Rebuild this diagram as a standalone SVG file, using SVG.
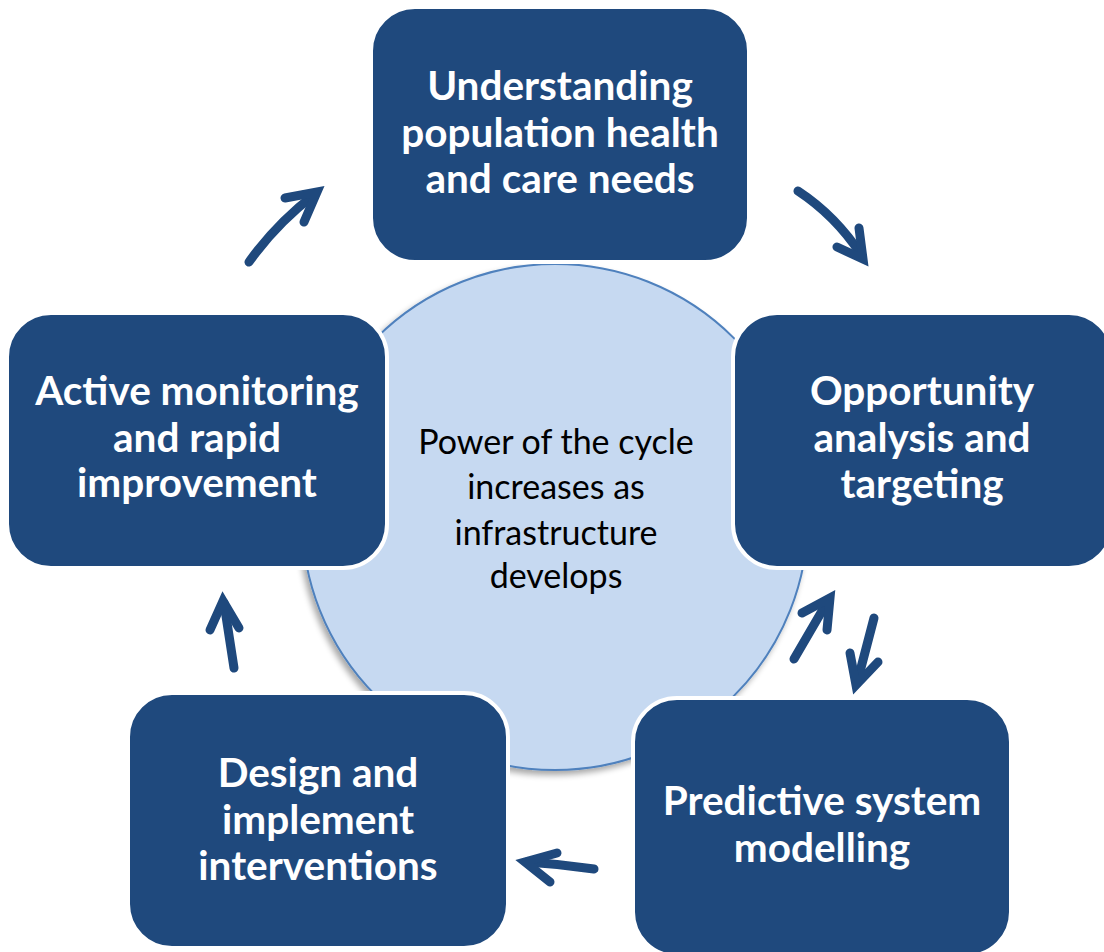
<svg xmlns="http://www.w3.org/2000/svg" width="1104" height="952" viewBox="0 0 1104 952">
<style>
.box{fill:#1F497D;stroke:#FFFFFF;stroke-width:4}
.lbl{font-family:Lato,"Liberation Sans",sans-serif;font-weight:bold;font-size:40.5px;fill:#FFFFFF;text-anchor:middle}
.ctr{font-family:Lato,"Liberation Sans",sans-serif;font-size:34px;fill:#000000;text-anchor:middle}
.arr{fill:none;stroke:#1F497D;stroke-width:9;stroke-linecap:round;stroke-linejoin:miter;stroke-miterlimit:10}
</style>
<defs>
<filter id="sh" x="-10%" y="-10%" width="120%" height="120%">
<feGaussianBlur in="SourceAlpha" stdDeviation="3"/>
<feOffset dx="-3" dy="4" result="b"/>
<feComponentTransfer><feFuncA type="linear" slope="0.35"/></feComponentTransfer>
<feMerge><feMergeNode/><feMergeNode in="SourceGraphic"/></feMerge>
</filter>
</defs>
<rect width="1104" height="952" fill="#FFFFFF"/>
<g id="center">
<circle cx="555" cy="517" r="253" fill="#C6D9F1" stroke="#4F81BD" stroke-width="2" filter="url(#sh)"/>
<text class="ctr" x="556" y="454">Power of the cycle</text>
<text class="ctr" x="556" y="499">increases as</text>
<text class="ctr" x="556" y="545">infrastructure</text>
<text class="ctr" x="556" y="588">develops</text>
</g>
<g id="node1">
<rect class="box" x="371" y="7" width="378" height="255" rx="44"/>
<text class="lbl" x="560" y="100">Understanding</text>
<text class="lbl" x="560" y="147">population health</text>
<text class="lbl" x="560" y="193">and care needs</text>
</g>
<g id="node2">
<rect class="box" x="733" y="313" width="380" height="255" rx="44"/>
<text class="lbl" x="922" y="405">Opportunity</text>
<text class="lbl" x="922" y="452">analysis and</text>
<text class="lbl" x="922" y="498">targeting</text>
</g>
<g id="node3">
<rect class="box" x="633" y="698" width="378" height="258" rx="44"/>
<text class="lbl" x="822" y="815">Predictive system</text>
<text class="lbl" x="822" y="862">modelling</text>
</g>
<g id="node4">
<rect class="box" x="128" y="693" width="380" height="255" rx="44"/>
<text class="lbl" x="318" y="787">Design and</text>
<text class="lbl" x="318" y="834">implement</text>
<text class="lbl" x="318" y="880">interventions</text>
</g>
<g id="node5">
<rect class="box" x="7" y="313" width="380" height="255" rx="44"/>
<text class="lbl" x="197" y="405">Active monitoring</text>
<text class="lbl" x="197" y="452">and rapid</text>
<text class="lbl" x="197" y="497">improvement</text>
</g>
<g id="connectors">
<path class="arr" d="M249,262 Q276,224 315,194"/>
<path class="arr" d="M285,198 L317,192 L304,222"/>
<path class="arr" d="M798,191 Q836,216 862,256"/>
<path class="arr" d="M859,228 L863,259 L837,247"/>
<path class="arr" d="M794,659 L829,599"/>
<path class="arr" d="M802,613 L830,598 L827,630"/>
<path class="arr" d="M874,618 L857,683"/>
<path class="arr" d="M850,653 L856,685 L878,662"/>
<path class="arr" d="M594,869 Q560,864 527,862"/>
<path class="arr" d="M557,853 L525,862 L550,882"/>
<path class="arr" d="M234,668 L224,603"/>
<path class="arr" d="M210,630 L223,601 L239,628"/>
</g>
</svg>
